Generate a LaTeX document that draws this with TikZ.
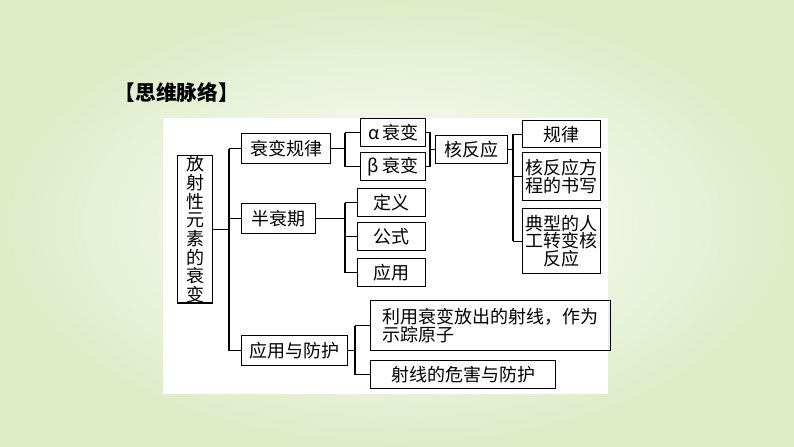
\documentclass[tikz,border=0pt]{standalone}
\usepackage{fontspec}
\setmainfont{Noto Sans CJK SC}
\begin{document}
\begin{tikzpicture}[x=0.75pt,y=-0.75pt,
  bx/.style={draw,line width=1pt,inner sep=0pt,anchor=north west,font=\fontsize{13.5}{16}\selectfont},
  ln/.style={line width=1pt}]
\useasboundingbox (0,0) rectangle (794,447);
\definecolor{edgegreen}{RGB}{222,236,200}
\shade[inner color=white,outer color=edgegreen] (0,0) rectangle (794,447);
\fill[white] (163,118) rectangle (608,394);
\node[anchor=west,font=\fontsize{15.5}{18}\selectfont\bfseries] (t) at (110,93) {【思维脉络】};
\node[bx,minimum width=35*0.75pt,align=center,minimum height=138*0.75pt] (r) at (177,155) {放\\[-2pt]射\\[-2pt]性\\[-2pt]元\\[-2pt]素\\[-2pt]的\\[-2pt]衰\\[-2pt]变};
\node[bx,minimum width=89*0.75pt,minimum height=30*0.75pt] (a) at (241,133) {衰变规律};
\node[bx,minimum width=74*0.75pt,minimum height=30*0.75pt] (b) at (241,203) {半衰期};
\node[bx,minimum width=106*0.75pt,minimum height=30*0.75pt] (c) at (241,335) {应用与防护};
\node[bx,minimum width=65*0.75pt,minimum height=28*0.75pt] (a1) at (360,118) {α\,衰变};
\node[bx,minimum width=65*0.75pt,minimum height=28*0.75pt] (a2) at (360,152) {β\,衰变};
\node[bx,minimum width=72*0.75pt,minimum height=28*0.75pt] (h) at (435,135) {核反应};
\node[bx,minimum width=78*0.75pt,minimum height=27*0.75pt] (h1) at (522,120) {规律};
\node[bx,minimum width=78*0.75pt,minimum height=48*0.75pt,align=center] (h2) at (522,152) {核反应方\\[-3pt]程的书写};
\node[bx,minimum width=78*0.75pt,minimum height=65*0.75pt,align=center] (h3) at (522,208) {典型的人\\[-3pt]工转变核\\[-3pt]反应};
\node[bx,minimum width=68*0.75pt,minimum height=28*0.75pt] (b1) at (357,188) {定义};
\node[bx,minimum width=68*0.75pt,minimum height=28*0.75pt] (b2) at (357,222) {公式};
\node[bx,minimum width=68*0.75pt,minimum height=28*0.75pt] (b3) at (357,258) {应用};
\node[bx,minimum width=240*0.75pt,minimum height=50*0.75pt,align=left] (c1) at (370,300) {利用衰变放出的射线，作为\\[-3pt]示踪原子};
\node[bx,minimum width=185*0.75pt,minimum height=28*0.75pt] (c2) at (370,360) {射线的危害与防护};
% connectors
\draw[ln] (r.east) -- (229,0|-r.east);
\draw[ln] (229,0|-a.west) -- (229,0|-c.west);
\draw[ln] (229,0|-a.west) -- (a.west);
\draw[ln] (229,0|-b.west) -- (b.west);
\draw[ln] (229,0|-c.west) -- (c.west);
\draw[ln] (a.east) -- (345,0|-a.east);
\draw[ln] (345,0|-a1.west) -- (345,0|-a2.west);
\draw[ln] (345,0|-a1.west) -- (a1.west);
\draw[ln] (345,0|-a2.west) -- (a2.west);
\draw[ln] (a1.east) -- (430,0|-a1.east) -- (430,0|-a2.east) -- (a2.east);
\draw[ln] (430,0|-h.west) -- (h.west);
\draw[ln] (h.east) -- (513,0|-h.east);
\draw[ln] (513,0|-h1.west) -- (513,0|-h3.west);
\draw[ln] (513,0|-h1.west) -- (h1.west);
\draw[ln] (513,0|-h2.west) -- (h2.west);
\draw[ln] (513,0|-h3.west) -- (h3.west);
\draw[ln] (b.east) -- (345,0|-b.east);
\draw[ln] (345,0|-b1.west) -- (345,0|-b3.west);
\draw[ln] (345,0|-b1.west) -- (b1.west);
\draw[ln] (345,0|-b2.west) -- (b2.west);
\draw[ln] (345,0|-b3.west) -- (b3.west);
\draw[ln] (c.east) -- (355,0|-c.east);
\draw[ln] (355,0|-c1.west) -- (355,0|-c2.west);
\draw[ln] (355,0|-c1.west) -- (c1.west);
\draw[ln] (355,0|-c2.west) -- (c2.west);
\end{tikzpicture}
\end{document}
